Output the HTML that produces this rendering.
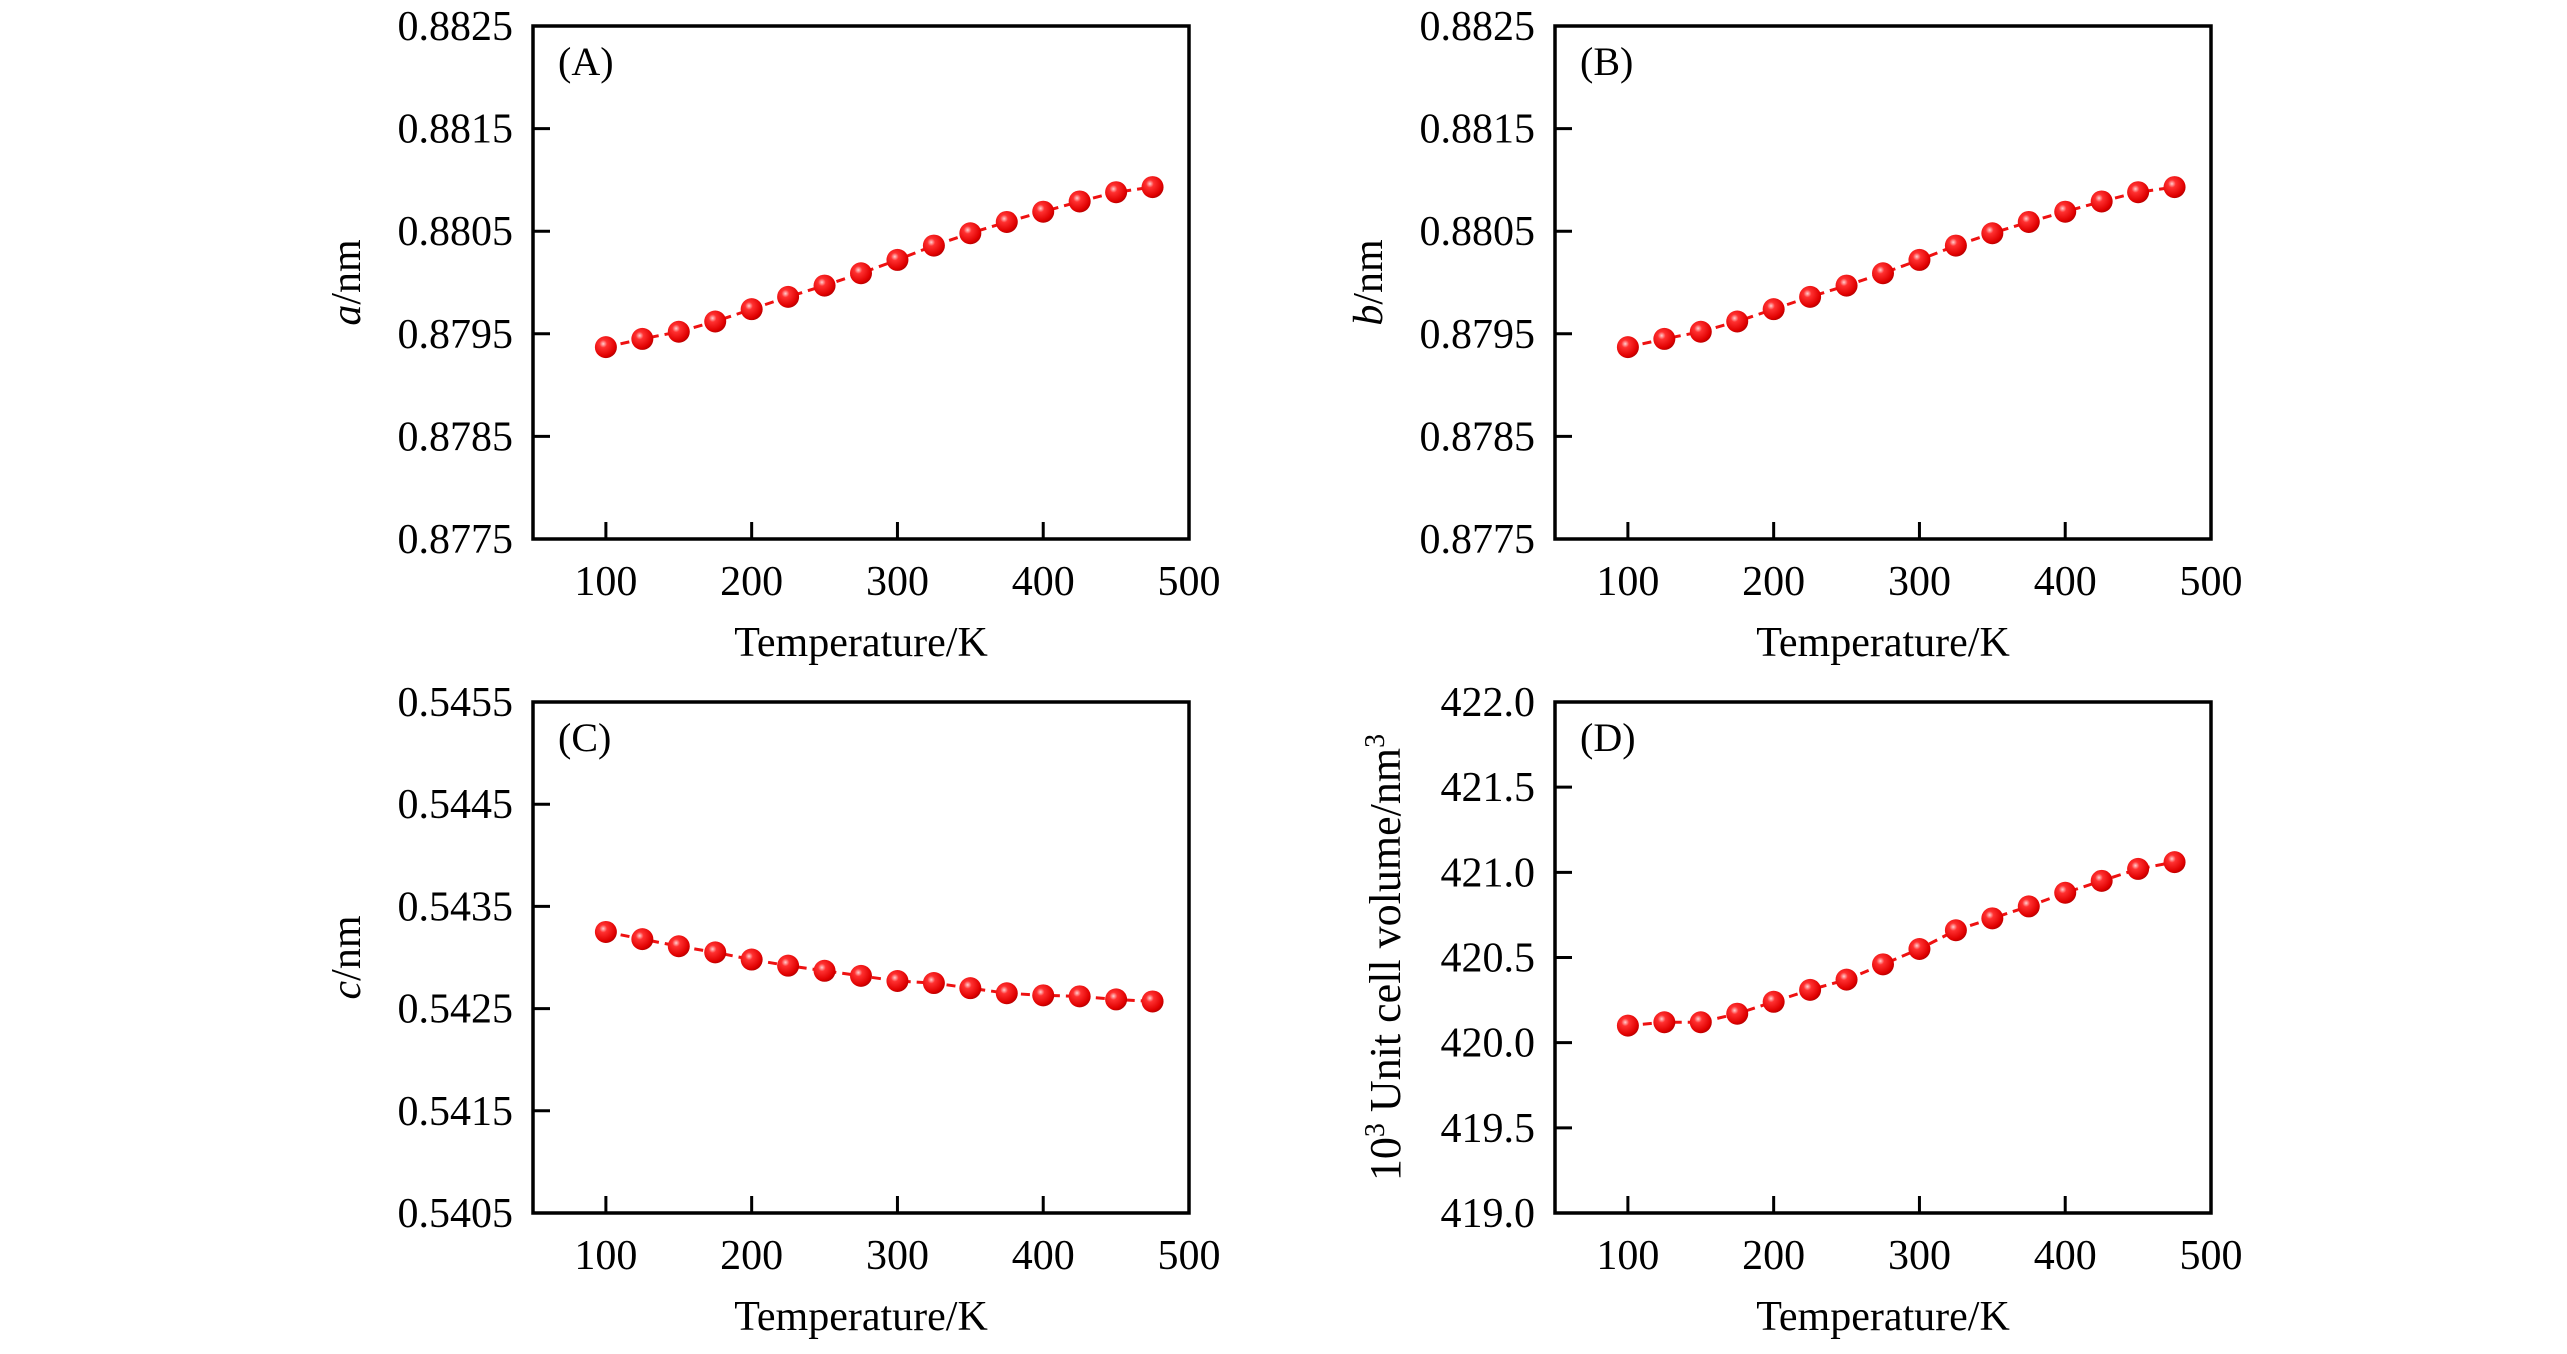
<!DOCTYPE html>
<html><head><meta charset="utf-8"><style>
html,body{margin:0;padding:0;background:#fff;}
svg{display:block;font-family:"Liberation Serif","DejaVu Serif",serif;}
</style></head><body>
<svg id="fig" width="2567" height="1354" viewBox="0 0 2567 1354" xmlns="http://www.w3.org/2000/svg">
<defs>
<radialGradient id="ball" cx="0.38" cy="0.35" r="0.7">
<stop offset="0" stop-color="#ffd0d0"/><stop offset="0.25" stop-color="#ff3030"/><stop offset="0.8" stop-color="#e00000"/><stop offset="1" stop-color="#b00000"/>
</radialGradient>
</defs>
</svg>
<script>
const temps = [100,125,150,175,200,225,250,275,300,325,350,375,400,425,450,475];
const xTicks = [100,200,300,400,500];
const aVals = [0.87937,0.87945,0.87952,0.87962,0.87974,0.87986,0.87997,0.88009,0.88022,0.88036,0.88048,0.88059,0.88069,0.88079,0.88088,0.88093];
const bVals = [0.87937,0.87945,0.87952,0.87962,0.87974,0.87986,0.87997,0.88009,0.88022,0.88036,0.88048,0.88059,0.88069,0.88079,0.88088,0.88093];
const cVals = [0.54325,0.54318,0.54311,0.54305,0.54298,0.54292,0.54287,0.54282,0.54277,0.54275,0.54270,0.54265,0.54263,0.54262,0.54259,0.54257];
const dVals = [420.10,420.12,420.12,420.17,420.24,420.31,420.37,420.46,420.55,420.66,420.73,420.80,420.88,420.95,421.02,421.06];
const abTicks = ["0.8775","0.8785","0.8795","0.8805","0.8815","0.8825"];
const cTicks = ["0.5405","0.5415","0.5425","0.5435","0.5445","0.5455"];
const dTicks = ["419.0","419.5","420.0","420.5","421.0","421.5","422.0"];

const NS="http://www.w3.org/2000/svg";
const svg=document.getElementById('fig');
function mk(tag,attrs,parent,text){const e=document.createElementNS(NS,tag);for(const k in attrs)e.setAttribute(k,attrs[k]);if(text!==undefined)e.textContent=text;(parent||svg).appendChild(e);return e;}

function panel(p){
  const g=mk('g',{});
  
  
  const L=p.L,R=p.R,T=p.T,B=p.B;
  const ymin=parseFloat(p.ticks[0]),ymax=parseFloat(p.ticks[p.ticks.length-1]);
  const xs=v=>L+(v-50)/450*(R-L);
  const ys=v=>B-(v-ymin)/(ymax-ymin)*(B-T);
  xTicks.forEach(t=>{
    if(t<500){const tk=mk('line',{x1:xs(t),x2:xs(t),y1:B,y2:B-17,stroke:'#000','stroke-width':3},g);
    
    }
    const lb=mk('text',{x:xs(t),y:B+56,'font-size':42,'text-anchor':'middle'},g,String(t));
    
    
  });
  p.ticks.forEach((t,i)=>{
    const v=parseFloat(t);
    if(i>0&&i<p.ticks.length-1){const tk=mk('line',{x1:L,x2:L+17,y1:ys(v),y2:ys(v),stroke:'#000','stroke-width':3},g);
    
    }
    const lb=mk('text',{x:L-20,y:ys(v)+14,'font-size':42,'text-anchor':'end'},g,t);
    
    
  });
  const frame=mk('rect',{x:L,y:T,width:R-L,height:B-T,fill:'none',stroke:'#000','stroke-width':3.5},g);
  
  
  const pts=temps.map((t,i)=>xs(t)+','+ys(p.vals[i])).join(' ');
  const line=mk('polyline',{points:pts,fill:'none',stroke:'#ee1111','stroke-width':3,'stroke-dasharray':'9 6'},g);
  
  
  temps.forEach((t,i)=>{
    const c=mk('circle',{cx:xs(t),cy:ys(p.vals[i]),r:11,fill:'url(#ball)'},g);
    
    
  });
  const pl=mk('text',{x:L+25,y:T+49,'font-size':40},g,'('+p.id+')');
  
  
  const xt=mk('text',{x:(L+R)/2,y:B+117,'font-size':42,'text-anchor':'middle'},g,'Temperature/K');
  
  
  const yt=mk('text',{x:0,y:0,'font-size':p.id==='D'?44:42,'text-anchor':'middle',transform:`translate(${p.yx},${(T+B)/2}) rotate(-90)`},g);
  
  
  if(p.id==='D'){
    yt.innerHTML='10<tspan font-size="28" dy="-16">3</tspan><tspan dy="16"> Unit cell volume/nm</tspan><tspan font-size="28" dy="-16">3</tspan>';
  } else {
    yt.innerHTML='<tspan font-style="italic">'+p.sym+'</tspan>/nm';
  }
}
panel({id:'A',sym:'a',L:533,R:1189,T:26,B:539,ticks:abTicks,vals:aVals,yx:360});
panel({id:'B',sym:'b',L:1555,R:2211,T:26,B:539,ticks:abTicks,vals:bVals,yx:1382});
panel({id:'C',sym:'c',L:533,R:1189,T:702,B:1213,ticks:cTicks,vals:cVals,yx:360});
panel({id:'D',sym:'',L:1555,R:2211,T:702,B:1213,ticks:dTicks,vals:dVals,yx:1400});
</script>
</body></html>
